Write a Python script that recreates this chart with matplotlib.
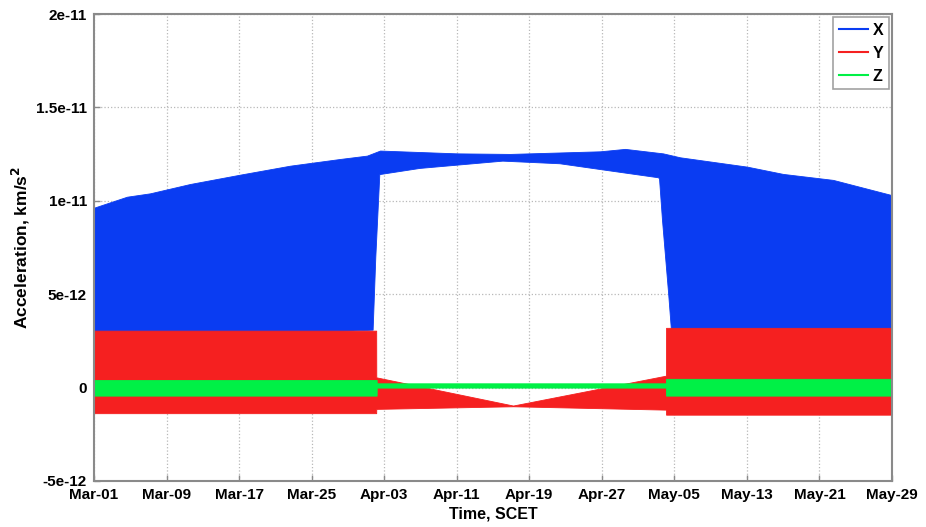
import matplotlib

matplotlib.use("Agg")
import matplotlib.pyplot as plt
import numpy as np

plt.rcParams["font.family"] = ["Liberation Sans", "DejaVu Sans"]
plt.rcParams["font.weight"] = "bold"

# x in days since Mar-01 00:00
X_MIN, X_MAX = 0.5, 90.0
tick_labels_x = ["Mar-01", "Mar-09", "Mar-17", "Mar-25", "Apr-03", "Apr-11",
                 "Apr-19", "Apr-27", "May-05", "May-13", "May-21", "May-29"]
tick_vals_y = [-5e-12, 0, 5e-12, 1e-11, 1.5e-11, 2e-11]
tick_labels_y = ["-5e-12", "0", "5e-12", "1e-11", "1.5e-11", "2e-11"]

# X component envelope (units 1e-12 km/s^2)
x_up_days = [0.5, 0.61, 4.2, 6.78, 11.27, 16.88, 22.48, 28.09, 31.12, 32.58,
             41.21, 47.16, 57.25, 60.06, 64.32, 66.22, 73.74, 77.78, 83.39, 89.78, 90.0]
x_up = [9.62, 9.65, 10.22, 10.40, 10.90, 11.40, 11.88, 12.24, 12.42, 12.69,
        12.54, 12.51, 12.65, 12.78, 12.54, 12.33, 11.83, 11.44, 11.12, 10.33, 10.28]
x_lo_days = [0.5, 31.75, 32.05, 32.5, 37.0, 46.3, 52.7, 57.25, 63.76, 63.87,
             64.2, 64.9, 65.3, 90.0]
x_lo = [2.5, 3.1, 7.0, 11.43, 11.76, 12.15, 12.01, 11.70, 11.26, 11.2,
        9.0, 5.0, 2.5, 2.5]

# Y component envelope
y_days = [0.5, 32.15, 32.16, 47.5, 64.65, 64.66, 90.0]
y_up = [3.05, 3.05, 0.55, -0.96, 0.64, 3.2, 3.2]
y_lo = [-1.37, -1.37, -1.14, -1.00, -1.18, -1.45, -1.45]

# Z component envelope
z_days = [0.5, 32.2, 32.21, 64.65, 64.66, 90.0]
z_up = [0.41, 0.41, 0.23, 0.23, 0.47, 0.47]
z_lo = [-0.43, -0.43, 0.0, 0.0, -0.43, -0.43]

BLUE = "#0a3cf2"
RED = "#f52020"
GREEN = "#00f046"
SCALE = 1e-12

fig = plt.figure(figsize=(9.26, 5.27), dpi=100, facecolor="white")
ax = fig.add_axes([0.1015, 0.0873, 0.8618, 0.8861])

grid = np.union1d(np.array(x_up_days), np.array(x_lo_days))
ax.fill_between(grid, np.interp(grid, x_lo_days, x_lo) * SCALE,
                np.interp(grid, x_up_days, x_up) * SCALE, color=BLUE, lw=0.6)
ax.fill_between(y_days, np.array(y_lo) * SCALE, np.array(y_up) * SCALE, color=RED, lw=0.6)
ax.fill_between(z_days, np.array(z_lo) * SCALE, np.array(z_up) * SCALE, color=GREEN, lw=0.6)

ax.plot([], [], color=BLUE, lw=1.5, label="X")
ax.plot([], [], color=RED, lw=1.5, label="Y")
ax.plot([], [], color=GREEN, lw=1.5, label="Z")

ax.set_xlim(X_MIN, X_MAX)
ax.set_ylim(-5e-12, 2e-11)
ax.set_xticks(np.linspace(X_MIN, X_MAX, len(tick_labels_x)))
ax.set_xticklabels(tick_labels_x, fontsize=11, fontweight="bold")
ax.set_yticks(tick_vals_y)
ax.set_yticklabels(tick_labels_y, fontsize=11, fontweight="bold")
ax.grid(True, linestyle=":", color="#b8b8b8", lw=0.9)
ax.set_axisbelow(True)
for sp in ax.spines.values():
    sp.set_color("#8a8a8a")
    sp.set_linewidth(1.5)
ax.tick_params(direction="in", length=4, color="#8a8a8a", width=1, pad=5)
ax.set_xlabel("Time, SCET", fontsize=11.5, fontweight="bold", labelpad=3)
ax.set_ylabel("Acceleration, km/s$^2$", fontsize=12.5, fontweight="bold", labelpad=3)

leg = ax.legend(loc="upper right", frameon=True, fancybox=False,
                handlelength=1.8, handletextpad=0.3, borderpad=0.35,
                labelspacing=0.5, borderaxespad=0.2, prop={"weight": "bold", "size": 11.5})
leg.get_frame().set_edgecolor("#8a8a8a")
leg.get_frame().set_linewidth(1.2)

fig.savefig("out.png", dpi=100, facecolor="white")
